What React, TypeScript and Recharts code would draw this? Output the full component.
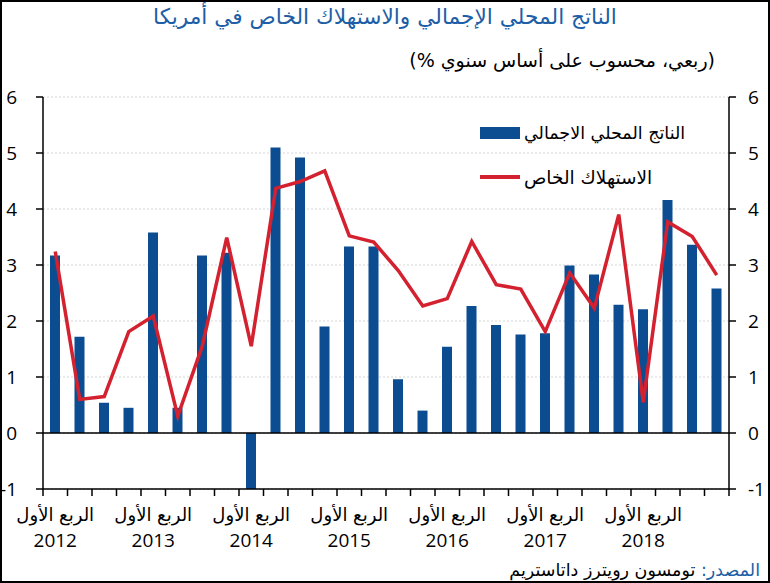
import React from 'react'
import {
  ComposedChart,
  Bar,
  Line,
  XAxis,
  YAxis,
  CartesianGrid,
  ReferenceLine,
} from 'recharts'

/* ---------------- data ---------------- */

const years = ['2012', '2013', '2014', '2015', '2016', '2017', '2018']
const quarterNames = ['Q1', 'Q2', 'Q3', 'Q4']
const quarterLabel = 'الربع الأول'

// GDP growth, % q/q annualised
const gdp = [
  3.17, 1.72, 0.54, 0.45, 3.58, 0.45, 3.17, 3.22,
  -1.0, 5.1, 4.92, 1.9, 3.33, 3.33, 0.96, 0.4,
  1.54, 2.27, 1.93, 1.76, 1.78, 2.99, 2.83, 2.29,
  2.21, 4.16, 3.36, 2.58,
]

// private consumption
const consumption = [
  3.24, 0.6, 0.65, 1.81, 2.09, 0.3, 1.55, 3.49,
  1.55, 4.37, 4.49, 4.68, 3.52, 3.41, 2.9, 2.27,
  2.4, 3.42, 2.65, 2.57, 1.81, 2.86, 2.23, 3.9,
  0.55, 3.77, 3.51, 2.82,
]

const yTicks = [-1, 0, 1, 2, 3, 4, 5, 6]

const quarters = years.flatMap((y) => quarterNames.map((q) => `${y} ${q}`))
const data = quarters.map((q, i) => ({ q, gdp: gdp[i], consumption: consumption[i] }))

/* ---------------- styles ---------------- */

const BLUE = '#0c4d92'
const RED = '#d3212f'
const TITLE_BLUE = '#1d5ea6'
const NUM_FONT = '"Open Sans", "DejaVu Sans", sans-serif'
const AR_FONT = '"DejaVu Sans", "Noto Sans", sans-serif'

// category tick: boundary tick marks + year label on first quarter
function QuarterTick(props: any) {
  const { x, y, index, width, visibleTicksCount } = props
  const bw = width / (visibleTicksCount || quarters.length)
  const left = x - bw / 2
  const right = x + bw / 2
  const isLast = index === quarters.length - 1
  return (
    <g>
      <line x1={left} x2={left} y1={y} y2={y + 7} stroke="#000" strokeWidth={1.5} />
      {isLast && <line x1={right} x2={right} y1={y} y2={y + 7} stroke="#000" strokeWidth={1.5} />}
      {index % 4 === 0 && (
        <>
          <text x={x} y={y + 32} textAnchor="middle" fontSize={18} fontFamily={AR_FONT} fill="#000">
            {quarterLabel}
          </text>
          <text x={x} y={y + 58} textAnchor="middle" fontSize={19} fontFamily={NUM_FONT} fill="#000">
            {years[index / 4]}
          </text>
        </>
      )}
    </g>
  )
}

export default function App() {
  return (
    <div style={{ position: 'absolute', left: 0, top: 0, width: 770, height: 583, background: '#fff' }}>
      <ComposedChart
        width={770}
        height={583}
        data={data}
        margin={{ top: 97, right: 0, bottom: 0, left: 0 }}
      >
        <CartesianGrid
          xAxisId="cat"
          yAxisId="l"
          vertical={false}
          stroke="#d6d6d6"
          strokeDasharray="2 2"
        />
        <XAxis
          xAxisId="cat"
          dataKey="q"
          height={94}
          interval={0}
          axisLine={{ stroke: '#000', strokeWidth: 1.5 }}
          tickLine={false}
          tickSize={0}
          tickMargin={0}
          tick={<QuarterTick />}
        />
        <YAxis
          yAxisId="l"
          width={43}
          domain={[-1, 6]}
          ticks={yTicks}
          allowDataOverflow
          interval={0}
          tickSize={7}
          tickMargin={19}
          axisLine={{ stroke: '#000', strokeWidth: 1.5 }}
          tickLine={{ stroke: '#000', strokeWidth: 1.5 }}
          tick={{ fill: '#000', fontSize: 19, fontFamily: NUM_FONT }}
        />
        <YAxis
          yAxisId="r"
          orientation="right"
          width={41}
          domain={[-1, 6]}
          ticks={yTicks}
          allowDataOverflow
          interval={0}
          tickSize={7}
          tickMargin={12}
          axisLine={{ stroke: '#000', strokeWidth: 1.5 }}
          tickLine={{ stroke: '#000', strokeWidth: 1.5 }}
          tick={{ fill: '#000', fontSize: 19, fontFamily: NUM_FONT, textAnchor: 'start' }}
        />
        <ReferenceLine xAxisId="cat" yAxisId="l" y={0} stroke="#000" strokeWidth={1.5} />
        <Bar
          xAxisId="cat"
          yAxisId="l"
          dataKey="gdp"
          fill={BLUE}
          barSize={10}
          isAnimationActive={false}
        />
        <Line
          xAxisId="cat"
          yAxisId="l"
          dataKey="consumption"
          type="linear"
          stroke={RED}
          strokeWidth={3.5}
          dot={false}
          activeDot={false}
          isAnimationActive={false}
        />
      </ComposedChart>

      {/* title */}
      <div
        style={{
          position: 'absolute', left: 0, top: 2, width: 770, textAlign: 'center',
          fontFamily: AR_FONT, fontSize: 21.7, color: TITLE_BLUE, lineHeight: '30px',
        }}
      >
        الناتج المحلي الإجمالي والاستهلاك الخاص في أمريكا
      </div>

      {/* subtitle */}
      <div
        style={{
          position: 'absolute', right: 55, top: 45, display: 'flex', whiteSpace: 'nowrap',
          fontFamily: AR_FONT, fontSize: 19, color: '#000', lineHeight: '30px',
        }}
      >
        <span>(%&nbsp;</span>
        <span dir="rtl">ربعي، محسوب على أساس سنوي</span>
        <span>)</span>
      </div>

      {/* legend */}
      <div style={{ position: 'absolute', left: 480, top: 120, fontFamily: AR_FONT, color: '#000' }}>
        <div style={{ display: 'flex', alignItems: 'center', height: 26 }}>
          <span style={{ display: 'inline-block', width: 40, height: 12, background: BLUE }} />
          <span style={{ whiteSpace: 'nowrap', marginLeft: 4, fontSize: 17.5 }}>الناتج المحلي الاجمالي</span>
        </div>
        <div style={{ display: 'flex', alignItems: 'center', height: 26, marginTop: 18 }}>
          <span style={{ display: 'inline-block', width: 40, height: 3.5, background: RED }} />
          <span style={{ whiteSpace: 'nowrap', marginLeft: 4, fontSize: 18.5 }}>الاستهلاك الخاص</span>
        </div>
      </div>

      {/* source */}
      <div
        dir="rtl"
        style={{
          position: 'absolute', right: 10, top: 557, whiteSpace: 'nowrap',
          fontFamily: AR_FONT, fontSize: 17.5, color: '#000', lineHeight: '26px',
        }}
      >
        <span style={{ color: TITLE_BLUE }}>المصدر:</span> تومسون رويترز داتاستريم
      </div>

      {/* frame */}
      <div
        style={{
          position: 'absolute', left: 0, top: 0, width: 770, height: 583,
          boxSizing: 'border-box', border: '2px solid #000', pointerEvents: 'none',
        }}
      />
    </div>
  )
}
